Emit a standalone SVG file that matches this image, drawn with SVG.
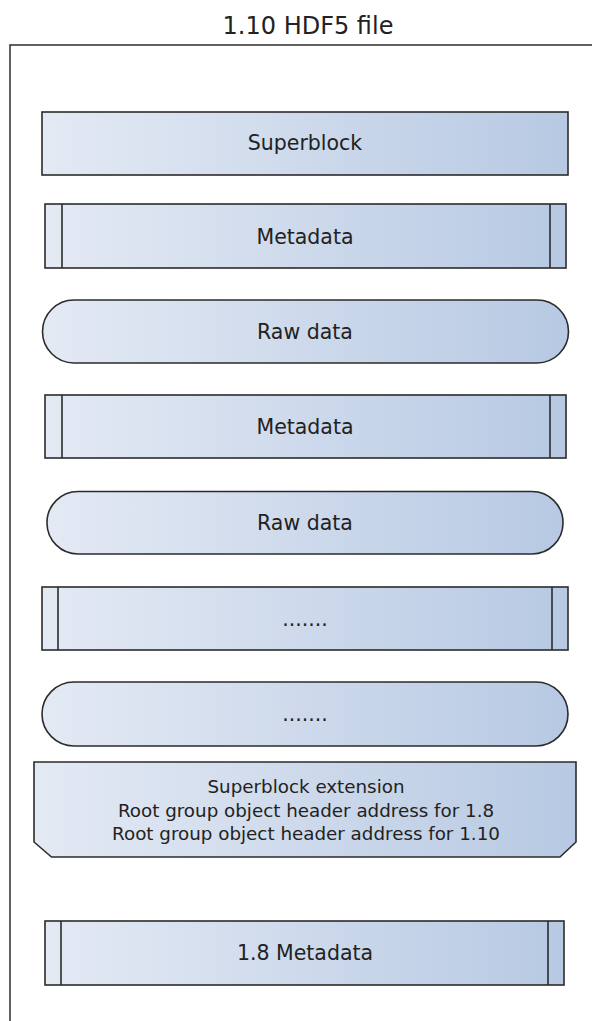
<svg xmlns="http://www.w3.org/2000/svg" width="592" height="1021" viewBox="0 0 592 1021">
  <defs>
    <linearGradient id="fill" x1="0" y1="0" x2="1" y2="0">
      <stop offset="0" stop-color="#e4eaf4"/>
      <stop offset="1" stop-color="#b7c9e3"/>
    </linearGradient>
    <style>
      .box { fill: url(#fill); stroke: #2b2b2b; stroke-width: 1.6; }
      .bar { fill: none; stroke: #2b2b2b; stroke-width: 1.6; }
      .frame { fill: #ffffff; stroke: #3a3a3a; stroke-width: 1.6; }
      .label { font-family: "DejaVu Sans", "Liberation Sans", sans-serif; font-size: 20.5px; fill: #222222; text-anchor: middle; }
      .title { font-size: 24px; }
      .small { font-size: 18.3px; }
    </style>
  </defs>

  <!-- file frame, open past the right and bottom edges -->
  <rect class="frame" x="10" y="45" width="620" height="1000"/>
  <text class="label title" x="308" y="34">1.10 HDF5 file</text>

  <g id="superblock">
    <rect class="box" x="42" y="112" width="526" height="63"/>
    <text class="label" x="305" y="150">Superblock</text>
  </g>

  <g id="metadata-1">
    <rect class="box" x="45" y="204" width="521" height="64"/>
    <line class="bar" x1="62" y1="204" x2="62" y2="268"/>
    <line class="bar" x1="550" y1="204" x2="550" y2="268"/>
    <text class="label" x="305" y="244">Metadata</text>
  </g>

  <g id="raw-data-1">
    <rect class="box" x="42.5" y="300" width="526" height="63" rx="31.5" ry="31.5"/>
    <text class="label" x="305" y="339">Raw data</text>
  </g>

  <g id="metadata-2">
    <rect class="box" x="45" y="395" width="521" height="63"/>
    <line class="bar" x1="62" y1="395" x2="62" y2="458"/>
    <line class="bar" x1="550" y1="395" x2="550" y2="458"/>
    <text class="label" x="305" y="434">Metadata</text>
  </g>

  <g id="raw-data-2">
    <rect class="box" x="47" y="491.5" width="516" height="62.5" rx="31" ry="31"/>
    <text class="label" x="305" y="530">Raw data</text>
  </g>

  <g id="metadata-more">
    <rect class="box" x="42" y="587" width="526" height="63"/>
    <line class="bar" x1="58" y1="587" x2="58" y2="650"/>
    <line class="bar" x1="552" y1="587" x2="552" y2="650"/>
    <text class="label" x="305" y="626">.......</text>
  </g>

  <g id="raw-data-more">
    <rect class="box" x="42" y="682" width="526" height="64" rx="32" ry="32"/>
    <text class="label" x="305" y="721">.......</text>
  </g>

  <g id="superblock-extension">
    <path class="box" d="M34,762 H576 V842 L560,857 H51.5 L34,842 Z"/>
    <text class="label small" x="306" y="793">Superblock extension</text>
    <text class="label small" x="306" y="816.5">Root group object header address for 1.8</text>
    <text class="label small" x="306" y="840">Root group object header address for 1.10</text>
  </g>

  <g id="metadata-1-8">
    <rect class="box" x="45" y="921" width="519" height="64"/>
    <line class="bar" x1="61" y1="921" x2="61" y2="985"/>
    <line class="bar" x1="548" y1="921" x2="548" y2="985"/>
    <text class="label" x="305" y="960">1.8 Metadata</text>
  </g>

  <g id="connectors"/>
</svg>
